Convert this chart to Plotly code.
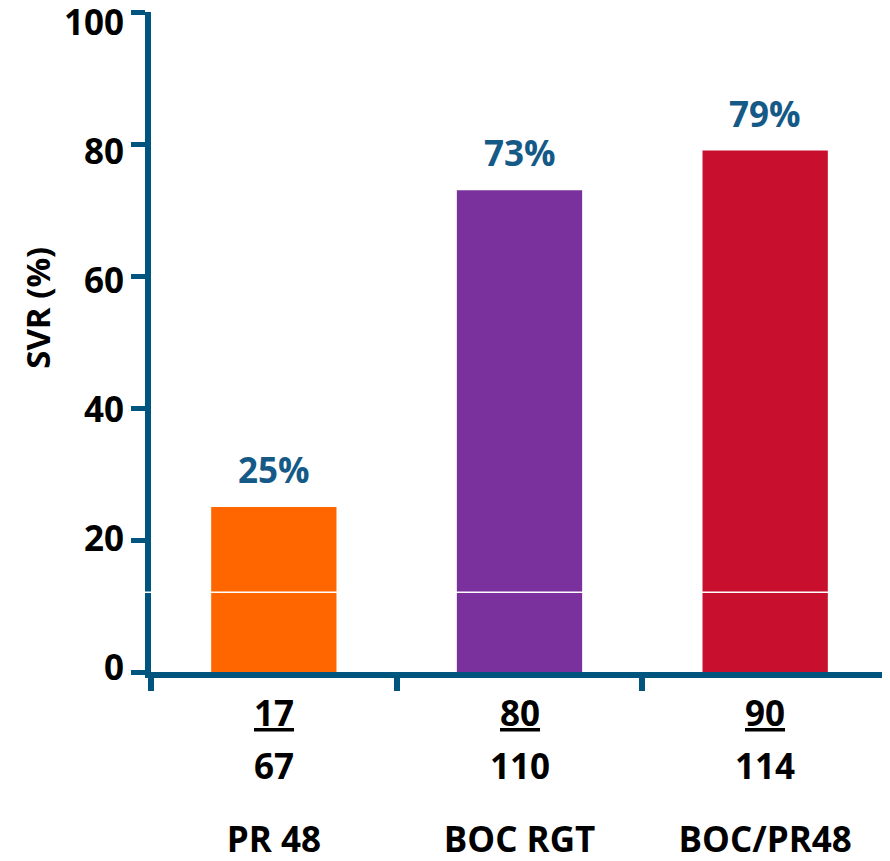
import plotly.graph_objects as go

# ---- data ----
groups = ["PR 48", "BOC RGT", "BOC/PR48"]
svr_pct = [25, 73, 79]
responders = [17, 80, 90]
totals = [67, 110, 114]
bar_colors = ["#FF6600", "#7B319D", "#C8102E"]
y_ticks = [0, 20, 40, 60, 80, 100]
split_line_value = 12.1  # thin white rule seen across the bars

AXIS_BLUE = "#00557F"
LABEL_BLUE = "#155A87"
FONT = "Open Sans"
FS = 35
CLEAR = "rgba(0,0,0,0)"

fig = go.Figure()
fig.add_trace(go.Bar(
    x=groups, y=svr_pct,
    marker=dict(color=bar_colors, line=dict(width=0)),
    width=0.51,
    hoverinfo="skip",
))
# invisible companion trace so the label axis (slightly compressed, as in the source) is drawn
fig.add_trace(go.Scatter(x=groups, y=svr_pct, yaxis="y2", mode="none",
                         hoverinfo="skip", showlegend=False))

annotations = []
for g, v in zip(groups, svr_pct):
    annotations.append(dict(
        x=g, y=v, xref="x", yref="y", text=f"<b>{v}%</b>",
        showarrow=False, yanchor="bottom", yshift=12,
        font=dict(family=FONT, size=FS, color=LABEL_BLUE),
    ))
for g, r, t in zip(groups, responders, totals):
    annotations.append(dict(
        x=g, y=-0.062, xref="x", yref="paper", text=f"<b><u>{r}</u></b>",
        showarrow=False, yanchor="middle",
        font=dict(family=FONT, size=FS, color="black"),
    ))
    annotations.append(dict(
        x=g, y=-0.142, xref="x", yref="paper", text=f"<b>{t}</b>",
        showarrow=False, yanchor="middle",
        font=dict(family=FONT, size=FS, color="black"),
    ))
annotations.append(dict(
    x=-0.155, y=0.5515, xref="paper", yref="paper", text="<b>SVR (%)</b>",
    showarrow=False, textangle=-90, xanchor="center", yanchor="middle",
    font=dict(family=FONT, size=33, color="black"),
))

fig.update_layout(
    width=882, height=853,
    margin=dict(l=143, r=2, t=4, b=189, autoexpand=False),
    paper_bgcolor="white", plot_bgcolor="white",
    showlegend=False,
    annotations=annotations,
    shapes=[dict(type="line", xref="paper", yref="y", x0=-0.03, x1=1,
                 y0=split_line_value, y1=split_line_value,
                 line=dict(color="white", width=1.5), layer="above")],
    font=dict(family=FONT),
    yaxis=dict(
        range=[0, 100], tickvals=y_ticks, showticklabels=False,
        showline=True, linewidth=6, linecolor=AXIS_BLUE,
        ticks="outside", ticklen=14, tickwidth=5, tickcolor=AXIS_BLUE,
        showgrid=False, zeroline=False, automargin=False,
    ),
    yaxis2=dict(
        overlaying="y", side="left", anchor="x",
        range=[-0.62, 101.71], tickvals=y_ticks,
        ticktext=[f"<b>{v}</b>" for v in y_ticks],
        showline=True, linewidth=6, linecolor=CLEAR,
        ticks="outside", ticklen=14, tickwidth=5, tickcolor=CLEAR,
        showgrid=False, zeroline=False, automargin=False,
        ticklabeloverflow="allow",
        tickfont=dict(family=FONT, size=FS, color="black"),
    ),
)
fig.update_xaxes(
    type="category", tickson="boundaries",
    tickvals=groups, ticktext=[f"<b>{g}</b>" for g in groups],
    showline=True, linewidth=6, linecolor=AXIS_BLUE,
    ticks="outside", ticklen=13, tickwidth=6, tickcolor=AXIS_BLUE,
    ticklabelstandoff=132, ticklabeloverflow="allow", automargin=False,
    showgrid=False, zeroline=False,
    tickfont=dict(family=FONT, size=FS, color="black"),
)

fig.write_html("out.html")
